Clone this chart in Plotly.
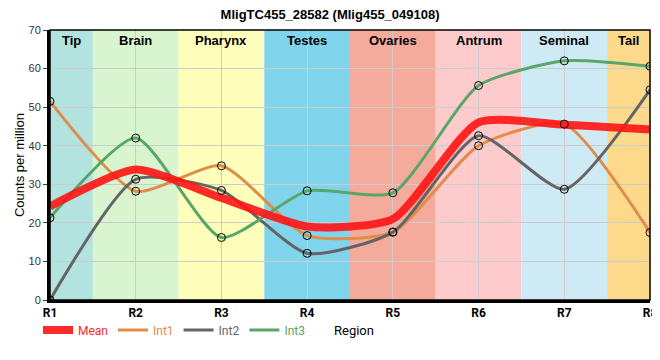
import plotly.graph_objects as go

regions = ["R1", "R2", "R3", "R4", "R5", "R6", "R7", "R8"]
tissues = ["Tip", "Brain", "Pharynx", "Testes", "Ovaries", "Antrum", "Seminal", "Tail"]
int1 = [51.5, 28.2, 34.8, 16.7, 17.6, 40.0, 45.6, 17.5]
int2 = [0.0, 31.3, 28.4, 12.1, 17.6, 42.6, 28.7, 54.5]
int3 = [21.3, 42.0, 16.2, 28.3, 27.8, 55.6, 62.0, 60.6]
mean = [(a + b + c) / 3 for a, b, c in zip(int1, int2, int3)]

band_colors = ["#b3e3de", "#d8f5cf", "#ffffbb", "#80d4ec", "#f5ab9c", "#fdcbcb", "#ceebf5", "#fdd98c"]

xs = list(range(len(regions)))

fig = go.Figure()

series = [
    ("Int1", int1, "rgb(224,140,75)"),
    ("Int2", int2, "rgb(100,100,100)"),
    ("Int3", int3, "rgb(90,165,105)"),
]

SMOOTH = 0.6

for name, vals, col in series:
    fig.add_trace(go.Scatter(
        x=xs, y=vals, mode="lines", line=dict(color=col, width=3, shape="spline", smoothing=SMOOTH),
        name=f"<span style='color:{col}'>{name}</span>",
        legendrank=2,
    ))

fig.add_trace(go.Scatter(
    x=xs, y=mean, mode="lines",
    line=dict(color="rgba(255,20,20,0.9)", width=8, shape="spline", smoothing=SMOOTH),
    name="<span style='color:rgb(255,40,40)'>Mean</span>", legendrank=1,
))

for name, vals, col in series:
    fig.add_trace(go.Scatter(
        x=xs, y=vals, mode="markers", showlegend=False, hoverinfo="skip",
        marker=dict(symbol="circle", size=8, color="rgba(0,0,0,0)", line=dict(color="black", width=1)),
    ))

shapes = []
for i, c in enumerate(band_colors):
    shapes.append(dict(type="rect", xref="x", yref="paper", x0=max(i - 0.5, 0), x1=min(i + 0.5, 7),
                       y0=0, y1=1, fillcolor=c, line=dict(width=0), layer="below"))
shapes.append(dict(type="rect", xref="paper", yref="paper", x0=0, x1=1, y0=0, y1=1,
                   line=dict(color="black", width=1.5), layer="above"))

annotations = []
for i, t in enumerate(tissues):
    xpos = i
    if i == 0:
        xpos = 0.25
    if i == 7:
        xpos = 6.75
    annotations.append(dict(x=xpos, y=1, xref="x", yref="paper", yanchor="top", yshift=-1,
                            text=f"<b>{t}</b>", showarrow=False,
                            font=dict(size=13, color="black", family="Liberation Sans")))

annotations.append(dict(x=0.47, y=-30 / 270, xref="paper", yref="paper", xanchor="left", yanchor="middle",
                        text="Region", showarrow=False,
                        font=dict(size=13, family="Roboto", color="black")))

fig.update_layout(
    width=660, height=360,
    margin=dict(l=42, r=18, t=22, b=68, autoexpand=False),
    paper_bgcolor="white", plot_bgcolor="white",
    title=dict(text="<b>MligTC455_28582 (Mlig455_049108)</b>", x=0.488, xref="container",
               y=0.994, yanchor="top", pad=dict(t=0),
               font=dict(size=13, color="black", family="Liberation Sans")),
    shapes=shapes, annotations=annotations,
    showlegend=True,
    legend=dict(orientation="h", x=-0.02, xanchor="left", y=-30 / 270, yanchor="middle",
                font=dict(size=12, family="Roboto"), bgcolor="rgba(0,0,0,0)",
                itemwidth=30, tracegroupgap=0),
    font=dict(family="Liberation Sans", color="black"),
)

fig.update_xaxes(range=[0, 7], tickvals=xs, ticktext=[f"<b>{r}</b>" for r in regions],
                 showgrid=True, gridcolor="#cccccc", gridwidth=1,
                 showline=True, linecolor="black", linewidth=3,
                 tickfont=dict(size=12, family="Roboto", color="black"),
                 ticklabeloverflow="allow",
                 zeroline=False)
fig.update_yaxes(range=[0, 70], dtick=10, showgrid=True, gridcolor="#cccccc", gridwidth=1,
                 showline=True, linecolor="black", linewidth=3, ticks="outside", ticklen=4,
                 tickcolor="#444", tickfont=dict(size=11, color="#333"),
                 title=dict(text="Counts per million", standoff=1, font=dict(size=13)),
                 zeroline=False)

fig.write_html("out.html")
